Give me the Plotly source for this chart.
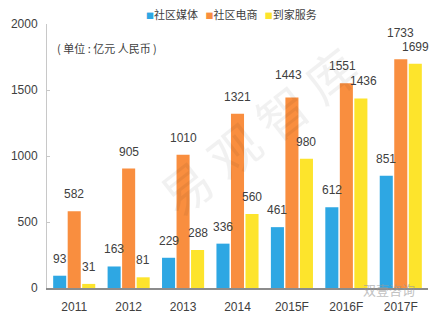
import plotly.graph_objects as go

categories = ["2011", "2012", "2013", "2014", "2015F", "2016F", "2017F"]
series_names = ["社区媒体", "社区电商", "到家服务"]
media = [93, 163, 229, 336, 461, 612, 851]
ecommerce = [582, 905, 1010, 1321, 1443, 1551, 1733]
home_service = [31, 81, 288, 560, 980, 1436, 1699]
colors = ["#2ea7e3", "#f98e3f", "#fde42c"]
y_ticks = [0, 500, 1000, 1500, 2000]

FONT = "Liberation Sans, Arial, sans-serif"
CJK = "Noto Sans CJK SC, sans-serif"

xpos = list(range(len(categories)))

fig = go.Figure()
all_series = [media, ecommerce, home_service]
for name, vals, col in zip(series_names, all_series, colors):
    fig.add_trace(go.Bar(x=xpos, y=vals, name=name, marker_color=col,
                         marker_line_width=0, showlegend=False))

# data labels (a few nudged a little, as in the source, to avoid collisions)
lift = {(1, 4): 6, (1, 6): 9}
nudge = {(1, 4): -3, (1, 5): -4, (2, 5): 3}
bar_slot = 0.8 / 3
for i, vals in enumerate(all_series):
    for xp, v in zip(xpos, vals):
        fig.add_annotation(x=xp + (i - 1) * bar_slot, y=v, text=str(v), showarrow=False,
                           yshift=8 + lift.get((i, xp), 0), xshift=nudge.get((i, xp), 0),
                           yanchor="bottom",
                           font=dict(family=FONT, size=12, color="#404040"))

# legend
legend_html = "   ".join(
    f"<span style='color:{col};font-size:8px'>■</span>{n}" for n, col in zip(series_names, colors))
fig.add_annotation(xref="paper", yref="paper", x=0.255, y=1.0, yshift=10,
                   xanchor="left", yanchor="middle", showarrow=False,
                   text=legend_html, font=dict(family=CJK, size=11, color="#404040"))

fig.add_annotation(xref="paper", yref="paper", x=0.02, y=0.91, xanchor="left",
                   yanchor="middle", showarrow=False, text="( 单位 : 亿元 人民币 )",
                   font=dict(family=CJK, size=11, color="#404040"))

# watermarks
fig.add_annotation(xref="paper", yref="paper", x=0.55, y=0.6, showarrow=False,
                   text="易 观 智 库", textangle=-38, opacity=0.05,
                   font=dict(family=CJK, size=50, color="#000000"))
fig.add_annotation(xref="paper", yref="paper", x=0.972, y=0.0, yshift=-1,
                   xanchor="right", yanchor="middle", showarrow=False,
                   text="双壹咨询", opacity=0.6,
                   font=dict(family=CJK, size=13, color="#9a9a9a"))

fig.update_layout(
    width=439, height=325,
    margin=dict(l=42, r=11, t=24, b=34),
    plot_bgcolor="white", paper_bgcolor="white",
    barmode="group", bargap=0.2, bargroupgap=0.1,
    font=dict(family=FONT, size=12, color="#404040"),
)
fig.update_xaxes(range=[-0.5, len(categories) - 0.5], tickvals=xpos, ticktext=categories,
                 showline=True, linecolor="#8c8c8c", linewidth=2, ticks="",
                 ticklabelstandoff=7,
                 tickfont=dict(family=FONT, size=12, color="#404040"), showgrid=False,
                 zeroline=False)
fig.update_yaxes(range=[0, 2000], tickvals=y_ticks, showline=True, linecolor="#c8c8c8",
                 linewidth=1, ticks="inside", ticklen=3, tickcolor="#c8c8c8",
                 showgrid=False, zeroline=False, ticklabelstandoff=6,
                 tickfont=dict(family=FONT, size=12, color="#404040"))

fig.write_html("out.html")
